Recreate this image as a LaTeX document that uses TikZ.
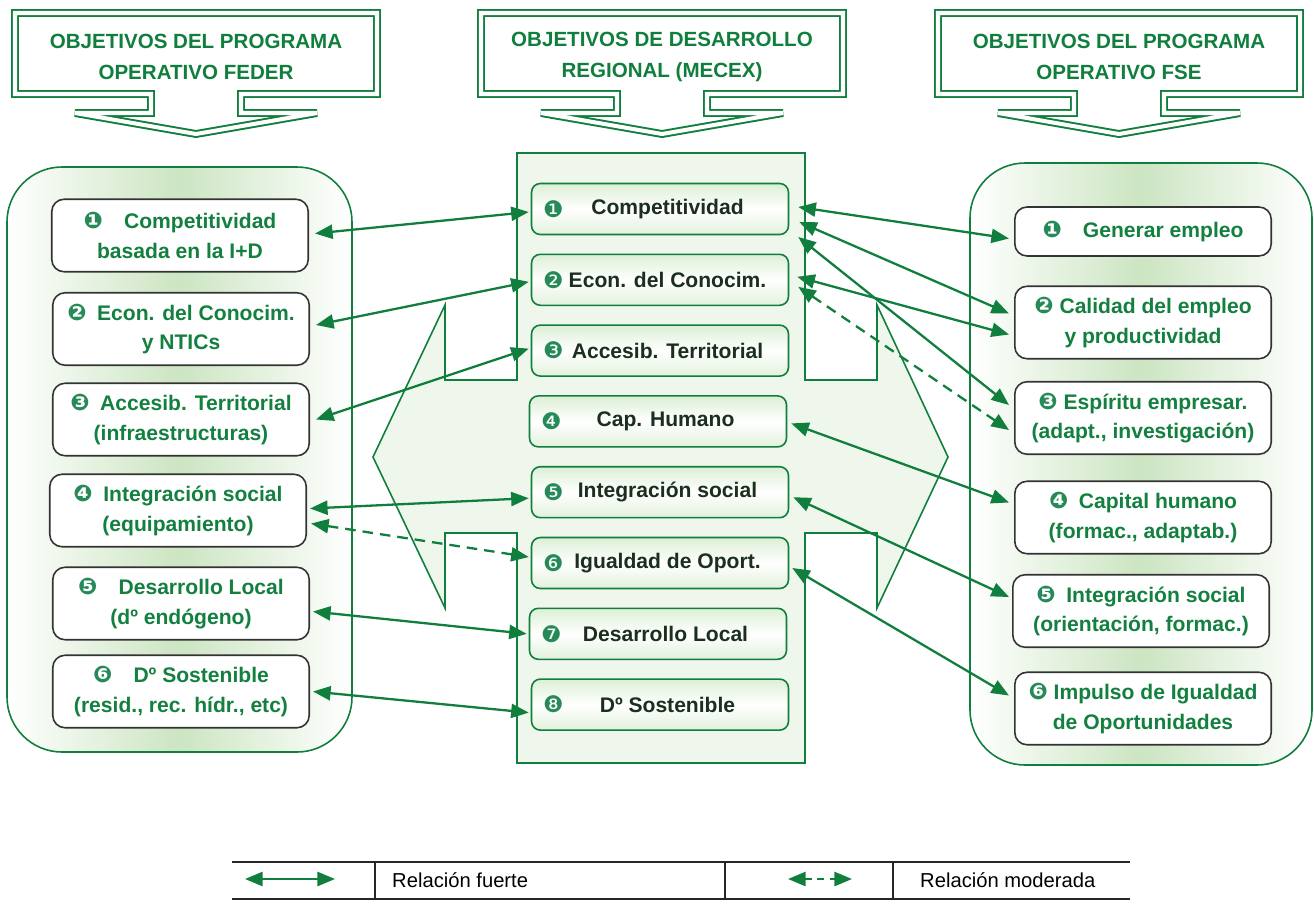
\documentclass[tikz,border=0pt]{standalone}
\usepackage{fontspec}
\setmainfont{Liberation Sans}
\newfontfamily\dingfont{DejaVu Sans}
\usetikzlibrary{arrows.meta}
\definecolor{feGreen}{RGB}{16,126,60}
\definecolor{feText}{RGB}{20,128,64}
\definecolor{feDark}{RGB}{28,46,30}
\definecolor{feBullet}{RGB}{38,138,88}
\definecolor{fePanel}{RGB}{204,229,194}
\definecolor{feCross}{RGB}{239,247,236}
\definecolor{feBoxTop}{RGB}{220,239,214}
\definecolor{feBoxBot}{RGB}{226,241,221}
\newcommand{\bul}[1]{{\dingfont\fontsize{13}{13}\selectfont\textcolor{feBullet}{#1}}}
\tikzset{
  banner/.style={draw=feGreen,line width=1.1pt,double=white,double distance=2.3pt,fill=white},
  banner text/.style={text=feGreen,font=\bfseries\fontsize{11.7}{17.5}\selectfont,align=center},
  panel/.style={draw=feGreen,line width=0.9pt,rounded corners=1.1cm,left color=white,right color=white,middle color=fePanel},
  cross/.style={draw=feGreen,line width=0.9pt,fill=feCross},
  side box/.style={draw=black!80,line width=0.9pt,fill=white,rounded corners=7pt,align=center,text=feText,font=\bfseries\fontsize{12}{17}\selectfont,minimum width=5.13cm,minimum height=1.45cm,inner sep=2pt},
  mid box/.style={draw=feGreen,line width=0.9pt,rounded corners=5pt,top color=feBoxTop,bottom color=feBoxBot,middle color=white,text=feDark,font=\bfseries\fontsize{12}{17}\selectfont,minimum width=5.14cm,minimum height=1.02cm,execute at begin node={\hspace*{0.3cm}},label={[anchor=west,inner sep=0pt,xshift=0.24cm]west:\bul{#1}}},
  rel strong/.style={{Triangle[length=10pt,width=8pt]}-{Triangle[length=10pt,width=8pt]},line width=1.3pt,draw=feGreen},
  rel moderate/.style={rel strong,dash pattern=on 6pt off 4pt},
  legend text/.style={font=\fontsize{11.5}{14}\selectfont,anchor=west},
  legend rule/.style={draw=black!85,line width=0.8pt}
}
\begin{document}
\begin{tikzpicture}[x=0.02cm,y=-0.02cm]
  \useasboundingbox (0,0) rectangle (1314,917);
  % header banners
  \draw[banner] (15,13) -- (377,13) -- (377,94) -- (241,94) -- (241,113) -- (317,113) -- (196,134) -- (75,113) -- (151,113) -- (151,94) -- (15,94) -- cycle;
  \draw[banner] (481,13) -- (843,13) -- (843,94) -- (707,94) -- (707,113) -- (783,113) -- (662,134) -- (541,113) -- (617,113) -- (617,94) -- (481,94) -- cycle;
  \draw[banner] (938,13) -- (1300,13) -- (1300,94) -- (1164,94) -- (1164,113) -- (1240,113) -- (1119,134) -- (998,113) -- (1074,113) -- (1074,94) -- (938,94) -- cycle;
  \node[banner text] (hfeder) at (196,57) {OBJETIVOS DEL PROGRAMA\\OPERATIVO FEDER};
  \node[banner text] (hmecex) at (662,57) {OBJETIVOS DE DESARROLLO\\REGIONAL (MECEX)};
  \node[banner text] (hfse) at (1119,57) {OBJETIVOS DEL PROGRAMA\\OPERATIVO FSE};
  % panels and central cross
  \draw[panel] (7,167) rectangle (352,752);
  \draw[panel] (970,163) rectangle (1312,765);
  \draw[cross] (517,153) -- (805,153) -- (805,380) -- (877,380) -- (877,305) -- (948,457) -- (877,608) -- (877,533) -- (805,533) -- (805,763) -- (517,763) -- (517,533) -- (445,533) -- (445,608) -- (373,457) -- (445,305) -- (445,380) -- (517,380) -- cycle;
  % FEDER objectives
  \node[side box] (feder1) at (180,235.5) {\bul{❶}\quad Competitividad\\basada en la I+D};
  \node[side box] (feder2) at (181,329) {\bul{❷}\enspace Econ. del Conocim.\\y NTICs};
  \node[side box] (feder3) at (181,419.5) {\bul{❸}\enspace Accesib. Territorial\\(infraestructuras)};
  \node[side box] (feder4) at (178,510.5) {\bul{❹}\enspace Integración social\\(equipamiento)};
  \node[side box] (feder5) at (181,603.5) {\bul{❺}\quad Desarrollo Local\\(dº endógeno)};
  \node[side box] (feder6) at (181,691.5) {\bul{❻}\quad Dº Sostenible\\(resid., rec. hídr., etc)};
  % MECEX objectives
  \node[mid box=❶] (mecex1) at (660,209) {Competitividad};
  \node[mid box=❷] (mecex2) at (660,279.8) {Econ. del Conocim.};
  \node[mid box=❸] (mecex3) at (660,350.6) {Accesib. Territorial};
  \node[mid box=❹] (mecex4) at (658,421.4) {Cap. Humano};
  \node[mid box=❺] (mecex5) at (660,492.2) {Integración social};
  \node[mid box=❻] (mecex6) at (660,563) {Igualdad de Oport.};
  \node[mid box=❼] (mecex7) at (658,633.8) {Desarrollo Local};
  \node[mid box=❽] (mecex8) at (660,704.6) {Dº Sostenible};
  % FSE objectives
  \node[side box,minimum height=0.98cm] (fse1) at (1143,231.5) {\bul{❶}\quad Generar empleo};
  \node[side box] (fse2) at (1143,322.5) {\bul{❷} Calidad del empleo\\y productividad};
  \node[side box] (fse3) at (1143,418) {\bul{❸} Espíritu empresar.\\(adapt., investigación)};
  \node[side box] (fse4) at (1143,517.5) {\bul{❹}\enspace Capital humano\\(formac., adaptab.)};
  \node[side box] (fse5) at (1141,611) {\bul{❺}\enspace Integración social\\(orientación, formac.)};
  \node[side box] (fse6) at (1143,708.5) {\bul{❻} Impulso de Igualdad\\de Oportunidades};
  % FEDER - MECEX
  \draw[rel strong] ([shift={(6,-2)}]feder1.east) -- ([shift={(-2,3)}]mecex1.west);
  \draw[rel strong] ([shift={(6,-4)}]feder2.east) -- ([shift={(-2,2)}]mecex2.west);
  \draw[rel strong] ([shift={(6,0)}]feder3.east) -- ([shift={(-2,-2)}]mecex3.west);
  \draw[rel strong] ([shift={(3,-2)}]feder4.east) -- ([shift={(-2,6)}]mecex5.west);
  \draw[rel moderate] ([shift={(4,13)}]feder4.east) -- ([shift={(-2,-6)}]mecex6.west);
  \draw[rel strong] ([shift={(3,8)}]feder5.east) -- ([shift={(-2,0)}]mecex7.west);
  \draw[rel strong] ([shift={(3,0)}]feder6.east) -- ([shift={(-2,8)}]mecex8.west);
  % MECEX - FSE
  \draw[rel strong] ([shift={(9,-2)}]mecex1.east) -- ([shift={(-5,7)}]fse1.west);
  \draw[rel strong] ([shift={(10,13)}]mecex1.east) -- ([shift={(-5,-9)}]fse2.west);
  \draw[rel strong] ([shift={(9,28)}]mecex1.east) -- ([shift={(-5,-13)}]fse3.west);
  \draw[rel strong] ([shift={(8,-3)}]mecex2.east) -- ([shift={(-5,12)}]fse2.west);
  \draw[rel moderate] ([shift={(9,7)}]mecex2.east) -- ([shift={(-5,12)}]fse3.west);
  \draw[rel strong] ([shift={(4,2)}]mecex4.east) -- ([shift={(-5,-15)}]fse4.west);
  \draw[rel strong] ([shift={(4,5)}]mecex5.east) -- ([shift={(-3,-14)}]fse5.west);
  \draw[rel strong] ([shift={(3,5)}]mecex6.east) -- ([shift={(-5,-13)}]fse6.west);
  % legend
  \draw[legend rule,line width=1.2pt] (232,862) -- (1130,862);
  \draw[legend rule] (232,899) -- (1130,899);
  \draw[legend rule] (375,862) -- (375,899);
  \draw[legend rule] (725,862) -- (725,899);
  \draw[legend rule] (893,862) -- (893,899);
  \coordinate (lgs1) at (245,879);
  \coordinate (lgs2) at (335,879);
  \coordinate (lgm1) at (788,879);
  \coordinate (lgm2) at (852,879);
  \draw[rel strong] (lgs1) -- (lgs2);
  \draw[rel moderate,dash pattern=on 4pt off 3pt] (lgm1) -- (lgm2);
  \node[legend text] (lgstrong) at (386,880) {Relación fuerte};
  \node[legend text] (lgmoderate) at (914,880) {Relación moderada};
\end{tikzpicture}
\end{document}
